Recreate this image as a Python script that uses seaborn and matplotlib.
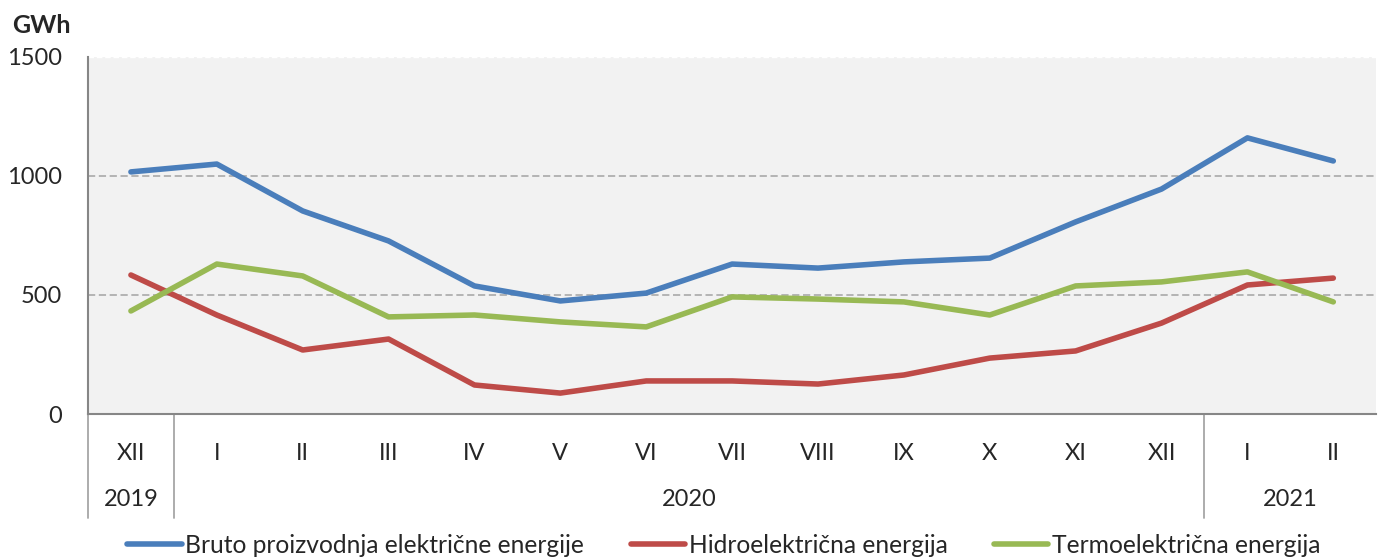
import numpy as np
import pandas as pd
import matplotlib
matplotlib.use('Agg')
import matplotlib.pyplot as plt
import seaborn as sns

# podaci (GWh), XII 2019 - II 2021
months = ['XII', 'I', 'II', 'III', 'IV', 'V', 'VI', 'VII', 'VIII', 'IX', 'X', 'XI', 'XII', 'I', 'II']
years = ['2019', '2020', '2021']
year_span = [(0, 0), (1, 12), (13, 14)]

bruto = [1017, 1050, 853, 727, 538, 475, 508, 630, 613, 639, 655, 807, 945, 1160, 1063]
hidro = [584, 416, 269, 315, 122, 88, 139, 139, 126, 164, 235, 265, 382, 542, 571]
termo = [433, 630, 580, 408, 416, 387, 366, 492, 483, 471, 416, 538, 555, 597, 471]

series_names = ['Bruto proizvodnja električne energije',
                'Hidroelektrična energija',
                'Termoelektrična energija']
series_colors = ['#4A7EBB', '#BE4B48', '#98B954']

sns.set_style('white')
plt.rcParams['font.family'] = ['Lato', 'DejaVu Sans']

frames = []
for name, vals in zip(series_names, [bruto, hidro, termo]):
    frames.append(pd.DataFrame({'pos': np.arange(len(months)), 'val': vals, 'serija': name}))
df = pd.concat(frames, ignore_index=True)

fig = plt.figure(figsize=(13.79, 5.58), dpi=100)
ax = fig.add_axes([0.0638, 0.258, 0.9342, 0.640])
ax.set_facecolor('#F2F2F2')

sns.lineplot(data=df, x='pos', y='val', hue='serija', palette=series_colors,
             hue_order=series_names, linewidth=4.0, sort=False, ax=ax, legend=False)

ax.set_xlim(-0.5, len(months) - 0.5)
ax.set_ylim(0, 1500)
ax.set_xlabel('')
ax.set_ylabel('')

# mreza
for yv in [500, 1000]:
    ax.axhline(yv, color='#AFAFAF', lw=1.3, ls=(0, (4, 2)), zorder=0)
ax.axhline(1500, color='white', lw=1.0, ls=(0, (4, 2)), zorder=0)

for s in ['top', 'right']:
    ax.spines[s].set_visible(False)
for s in ['left', 'bottom']:
    ax.spines[s].set_color('#868686')
    ax.spines[s].set_linewidth(1.5)

# y osa
ax.set_yticks([0, 500, 1000, 1500])
ax.tick_params(axis='y', which='major', length=6, width=1.3, color='#868686',
               labelsize=17, pad=13)

# x osa: granice kategorija (major) i oznake mjeseci (minor)
ax.set_xticks(np.arange(-0.5, len(months) - 1, 1.0))
ax.set_xticklabels([])
ax.tick_params(axis='x', which='major', length=38, width=1.3, color='#A6A6A6')
ax.set_xticks(np.arange(len(months)), minor=True)
ax.set_xticklabels(months, minor=True)
ax.tick_params(axis='x', which='minor', length=4, width=1.3, color='#A6A6A6',
               labelsize=17, pad=17)

# godine
for bnd in [-0.5, 0.5, 12.5]:
    ax.plot([bnd, bnd], [0, -0.29], transform=ax.get_xaxis_transform(),
            color='#A6A6A6', lw=1.3, clip_on=False)
for yr, (a, b) in zip(years, year_span):
    ax.text((a + b) / 2, -0.24, yr, transform=ax.get_xaxis_transform(),
            ha='center', va='center', fontsize=17)

fig.text(0.009, 0.955, 'GWh', fontsize=18, fontweight='bold', ha='left', va='center')

handles = [plt.Line2D([], [], color=c, lw=4.0) for c in series_colors]
fig.legend(handles, series_names, loc='center', bbox_to_anchor=(0.525, 0.023), ncol=3,
           frameon=False, fontsize=17.7, handlelength=2.2, handletextpad=0.15,
           columnspacing=1.9, borderaxespad=0)

fig.savefig('out.png', dpi=100)
